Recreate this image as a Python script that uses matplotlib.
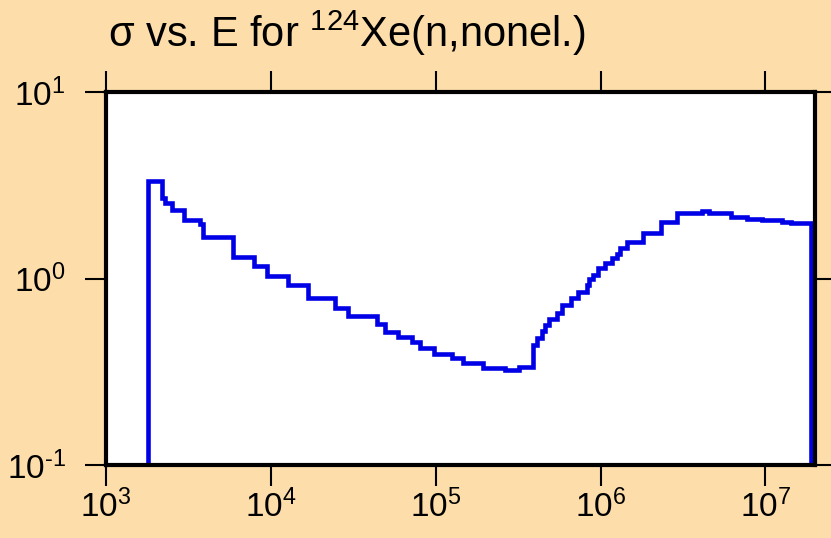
import numpy as np
import matplotlib
matplotlib.use('Agg')
import matplotlib.pyplot as plt
from matplotlib.ticker import FuncFormatter

# group boundaries in eV and the cross section (barns) in each group
energy_edges = [1.8e3, 2.18e3, 2.28e3, 2.51e3, 2.97e3, 3.72e3, 3.88e3, 5.89e3,
                7.89e3, 9.46e3, 1.27e4, 1.68e4, 2.44e4, 2.93e4, 4.39e4, 4.91e4,
                5.89e4, 7.16e4, 8.0e4, 9.73e4, 1.25e5, 1.46e5, 1.95e5, 2.62e5,
                3.18e5, 3.87e5, 4.09e5, 4.39e5, 4.58e5, 4.84e5, 5.41e5, 5.80e5,
                6.58e5, 7.26e5, 8.23e5, 8.46e5, 8.95e5, 9.6e5, 1.07e6, 1.18e6,
                1.25e6, 1.32e6, 1.44e6, 1.80e6, 2.34e6, 2.89e6, 4.15e6, 4.52e6,
                6.22e6, 7.78e6, 9.6e6, 1.27e7, 1.44e7, 1.90e7]
sigma = [3.33, 2.70, 2.54, 2.33, 2.06, 1.96, 1.67, 1.30,
         1.17, 1.03, 0.92, 0.785, 0.695, 0.63, 0.57, 0.516,
         0.486, 0.457, 0.424, 0.394, 0.375, 0.352, 0.331, 0.323,
         0.335, 0.44, 0.48, 0.52, 0.56, 0.61, 0.65, 0.72,
         0.785, 0.85, 0.92, 1.0, 1.05, 1.14, 1.21, 1.29,
         1.35, 1.46, 1.57, 1.75, 2.01, 2.24, 2.30, 2.24,
         2.14, 2.08, 2.06, 2.01, 1.98]

x_range = (1e3, 2e7)
y_range = (0.1, 10)
x_ticks = [1e3, 1e4, 1e5, 1e6, 1e7]
y_ticks = [0.1, 1, 10]
title = r'$\sigma$ vs. E for $^{124}$Xe(n,nonel.)'

plt.rcParams['font.family'] = ['Liberation Sans', 'DejaVu Sans']
plt.rcParams['mathtext.fontset'] = 'custom'
plt.rcParams['mathtext.rm'] = 'Liberation Sans'
plt.rcParams['mathtext.it'] = 'Liberation Sans'
plt.rcParams['axes.unicode_minus'] = False


def pow10(v, pos):
    # plain hyphen for the negative exponent, like the original
    e = int(round(np.log10(v)))
    ex = str(e).replace('-', r'\text{-}')
    return r'$\mathdefault{10^{%s}}$' % ex


bg = '#fddeab'
fig = plt.figure(figsize=(8.31, 5.38), dpi=100, facecolor=bg)
ax = fig.add_axes([106/831, 1-465/538, (815-106)/831, (465-92)/538])
ax.set_facecolor('white')

# baseline below the axis so the first and last group get their vertical edges
ax.stairs(sigma, energy_edges, baseline=1e-3, fill=False,
          color='#0000e6', linewidth=3.3)

ax.set_xscale('log')
ax.set_yscale('log')
ax.set_xlim(x_range)
ax.set_ylim(y_range)
ax.set_xticks(x_ticks)
ax.set_yticks(y_ticks)
ax.minorticks_off()
ax.xaxis.set_major_formatter(FuncFormatter(pow10))
ax.yaxis.set_major_formatter(FuncFormatter(pow10))

for s in ax.spines.values():
    s.set_linewidth(3)
    s.set_color('black')

ax.tick_params(which='major', direction='out', length=15, width=1.5,
               top=True, right=True, labelsize=24, color='black')
ax.tick_params(axis='x', pad=3)
ax.tick_params(axis='y', pad=14)

fig.text(108/831, 1-47/538, title, fontsize=30, ha='left', va='baseline')

plt.savefig('out.png', dpi=100, facecolor=bg)
